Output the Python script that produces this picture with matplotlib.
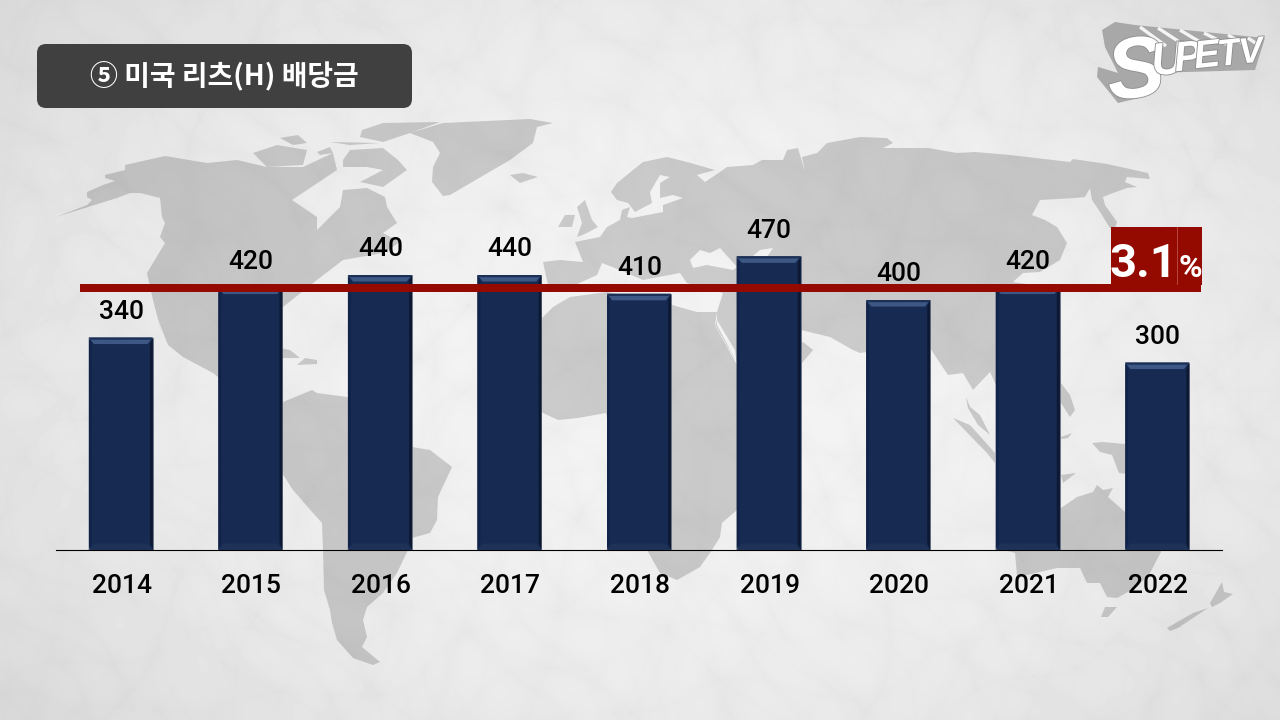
# plot.py
# dividend bars over a grey world map background
import numpy as np
import matplotlib
matplotlib.use("Agg")
import matplotlib.pyplot as plt
from matplotlib.patches import FancyBboxPatch, PathPatch, Polygon, Rectangle
from matplotlib.path import Path
from matplotlib.transforms import ScaledTranslation
import matplotlib.patheffects as pe

years = ["2014", "2015", "2016", "2017", "2018", "2019", "2020", "2021", "2022"]
dividends = [340, 420, 440, 440, 410, 470, 400, 420, 300]
avg_dividend = 419
title = "⑤ 미국 리츠(H) 배당금"
yield_text = "3.1"

navy = "#162a52"
red = "#950a00"

# background map, traced by hand, in pixels of the 1280x720 picture
north_america = [(56,217),(87,205),(92,200),(87,197),(87,192),(103,185),(115,181),(105,178),(105,175),(125,170),
    (125,165),(165,156),(207,163),(237,160),(267,167),(303,167),(333,153),(337,170),(292,200),(317,217),(317,230),
    (340,207),(343,190),(367,188),(385,197),(387,207),(397,223),(383,233),(400,242),(383,253),(343,260),(317,280),
    (283,307),(277,323),(280,333),(270,327),(255,330),(240,345),(240,380),(283,405),(283,420),(260,410),(213,373),
    (183,357),(168,345),(157,317),(162,335),(153,300),(147,273),(165,243),(160,237),(165,223),(162,217),(160,198),
    (140,193),(130,193),(117,198)]
south_america = [(283,402),(300,395),(312,390),(317,393),(347,397),(380,420),(412,447),(430,450),(452,467),(438,497),
    (437,520),(430,533),(412,538),(407,552),(397,573),(383,593),(367,607),(363,620),(367,637),(362,647),(380,662),
    (373,665),(353,658),(337,640),(332,623),(330,610),(324,590),(323,550),(322,523),(313,513),(293,490),(282,473),
    (278,430)]
greenland = [(410,133),(443,123),(530,119),(553,123),(537,127),(533,143),(510,160),(450,195),(443,196),(432,182),
    (433,167),(440,153),(433,142)]
eurasia = [(543,262),(560,260),(583,262),(575,242),(600,237),(607,227),(620,220),(622,210),(630,207),(627,217),
    (632,218),(663,212),(663,205),(683,198),(673,195),(660,198),(660,183),(670,177),(660,175),(650,192),(652,203),
    (635,212),(628,203),(617,200),(611,192),(617,183),(633,170),(643,162),(667,157),(687,162),(715,170),(697,175),
    (705,182),(720,172),(727,167),(753,165),(762,160),(783,160),(787,150),(798,148),(805,172),(802,157),(817,153),
    (827,143),(860,137),(887,138),(893,143),(883,148),(900,148),(928,148),(957,153),(975,152),(1010,155),(1070,162),
    (1073,159),(1107,164),(1148,173),(1150,179),(1127,177),(1125,182),(1137,187),(1127,188),(1113,193),(1103,197),
    (1105,205),(1117,222),(1115,228),(1110,228),(1100,212),(1092,200),(1090,188),(1085,197),(1075,198),(1040,200),
    (1032,215),(1045,220),(1057,227),(1067,243),(1060,260),(1040,272),(1023,273),(1013,282),(1053,288),(1060,300),
    (1040,340),(1000,350),(996,385),(990,372),(973,390),(963,373),(948,375),(930,348),(905,390),(880,350),(860,353),
    (853,350),(830,337),(801,330),(790,360),(737,363),(717,325),(717,312),(723,293),(687,283),(680,273),(643,280),
    (620,270),(602,263),(597,275),(575,285),(548,285)]
africa = [(553,307),(570,297),(607,292),(672,305),(697,312),(717,312),(715,325),(737,363),(770,385),(737,510),(722,523),
    (720,537),(712,550),(700,567),(677,580),(660,573),(647,550),(620,480),(606,413),(578,418),(558,420),(543,413),
    (525,395),(525,340),(543,317)]
australia = [(1061,508),(1077,497),(1093,492),(1097,485),(1103,490),(1113,488),(1108,497),(1125,512),(1145,480),
    (1161,552),(1150,573),(1137,587),(1117,598),(1107,597),(1100,583),(1087,583),(1080,568),(1057,568),(1027,575),
    (1017,575),(1015,553),(995,547),(1010,530)]
small_land = [
    [(510,175),(523,173),(538,177),(520,183)],  # iceland
    [(577,207),(585,200),(592,220),(598,227),(587,233),(577,237),(582,223)],
    [(558,227),(565,215),(575,215),(572,227)],
    [(253,153),(277,145),(307,150),(303,165),(267,167)],
    [(280,138),(298,135),(307,143),(293,145)],
    [(317,152),(330,147),(333,153),(320,155)],
    [(343,160),(350,150),(383,148),(398,160),(407,170),(383,187),(360,182),(383,170),(367,167),(343,167)],
    [(362,130),(383,123),(440,122),(410,133),(383,142),(360,137)],
    [(330,142),(380,143),(350,145)],
    [(275,347),(290,350),(300,358),(283,358)],
    [(297,365),(305,358),(317,360),(317,364)],
    [(801,343),(803,342),(813,350),(802,363)],
    [(953,418),(970,425),(995,453),(995,463),(987,453)],
    [(966,397),(970,407),(980,415),(990,435),(978,425),(968,408)],
    [(1061,383),(1070,395),(1075,410),(1070,417),(1061,403)],
    [(1092,443),(1103,442),(1135,445),(1135,475),(1119,473),(1112,455),(1100,452)],
    [(1061,437),(1072,433),(1068,438),(1061,439)],
    [(1061,475),(1076,473),(1063,483)],
    [(1105,607),(1117,607),(1108,617),(1101,617)],
    [(1222,582),(1224,592),(1233,594),(1220,603),(1212,607),(1210,603)],
    [(1208,608),(1193,613),(1167,628),(1170,631),(1178,628)],
]
seas = [
    [(690,260),(700,250),(710,253),(720,248),(737,267),(733,270),(707,265),(693,268)],  # black sea
    [(760,250),(773,248),(767,257),(753,256)],  # caspian
    [(715,325),(717,320),(735,350),(737,365)],  # red sea
]


def signed_area(pts):
    p = np.array(pts, dtype=float)
    return 0.5 * np.sum(p[:, 0] * np.roll(p[:, 1], -1) - np.roll(p[:, 0], -1) * p[:, 1])


def map_path(lands, holes):
    verts, codes = [], []
    for pts, sign in [(q, 1) for q in lands] + [(q, -1) for q in holes]:
        pts = list(pts)
        if signed_area(pts) * sign < 0:  # same winding for land, opposite for seas
            pts = pts[::-1]
        verts += pts + [pts[0]]
        codes += [Path.MOVETO] + [Path.LINETO] * (len(pts) - 1) + [Path.CLOSEPOLY]
    return Path(verts, codes)


plt.rcParams["font.family"] = ["Roboto", "DejaVu Sans"]
fig = plt.figure(figsize=(12.8, 7.2), dpi=100)

# paper background: vignette plus crease-like ridges
bg = fig.add_axes([0, 0, 1, 1], zorder=0)
yy, xx = np.mgrid[0:720, 0:1280].astype(float)
r = np.hypot((xx - 680) / 860, (yy - 360) / 560)
paper = 0.945 - 0.10 * np.clip(r, 0, 1.25) ** 2.2
warp_x = xx + 22 * np.sin(yy / 71 + 1.1) + 14 * np.sin((xx + yy) / 43)
warp_y = yy + 20 * np.sin(xx / 83 + 0.4) + 12 * np.sin((xx - yy) / 37)
for kx, ky, ph, w in [(0.031, 0.017, 0.3, 1.0), (-0.021, 0.037, 1.7, 1.0), (0.047, -0.029, 2.9, 0.8),
                      (0.013, 0.053, 4.1, 0.8), (-0.061, 0.023, 5.3, 0.6), (0.071, 0.041, 0.9, 0.5)]:
    ridge = np.abs(np.sin(kx * warp_x + ky * warp_y + ph))
    paper += w * 0.014 * (ridge ** 0.3 - 0.8)
bg.imshow(paper, cmap="gray", vmin=0, vmax=1, extent=(0, 1280, 720, 0), aspect="auto", interpolation="bilinear")
lands = [north_america, south_america, greenland, eurasia, africa, australia] + small_land
bg.add_patch(PathPatch(map_path(lands, seas), facecolor="black", alpha=0.165, edgecolor="none"))
bg.set_xlim(0, 1280)
bg.set_ylim(720, 0)
bg.axis("off")

# the chart itself, 129.6 px per category and 0.625 px per unit
ax = fig.add_axes([56 / 1280, 170 / 720, 1166 / 1280, 350 / 720], zorder=1)
ax.patch.set_alpha(0)
x = np.arange(len(years))
bar_w = 0.494
ax.bar(x, dividends, width=bar_w, color=navy, edgecolor="#6a7280", linewidth=0.5, zorder=2)

# bevel on each bar
side = 0.022
dx = 0.04
dy = 10.5
for xi, v in zip(x, dividends):
    l, r_ = xi - bar_w / 2, xi + bar_w / 2
    ax.fill([l, l + side, l + side, l], [0, dy, v - dy, v], color="#12234a", lw=0, zorder=3)
    ax.fill([r_, r_ - side, r_ - side, r_], [0, dy, v - dy, v], color="#0d1933", lw=0, zorder=3)
    ax.fill([l, r_, r_ - dx, l + dx], [0, 0, dy, dy], color="#1e3157", lw=0, zorder=3)
    ax.fill([l, r_, r_ - dx, l + dx], [v, v, v - dy, v - dy], color="#3e5885", lw=0, zorder=3)
    ax.fill([l, r_, r_ - 0.012, l + 0.012], [v, v, v - 3.5, v - 3.5], color="#1c2f55", lw=0, zorder=3)
    ax.annotate(str(v), (xi, v), xytext=(0.4, 18.5), textcoords="offset points", ha="center", va="center",
                fontsize=19, fontweight="medium", color="black", zorder=6)

ax.plot([-0.315, 8.34], [avg_dividend, avg_dividend], color=red, lw=5.76, solid_capstyle="butt", zorder=5)

ax.set_xlim(-0.5, 8.5)
ax.set_ylim(0, 560)
ax.set_xticks(x)
ax.set_xticklabels(years, fontsize=19, fontweight="medium", color="black")
ax.tick_params(axis="x", length=0, pad=17.5)
nudge = ScaledTranslation(1 / 100, 0, fig.dpi_scale_trans)
for lab in ax.get_xticklabels():
    lab.set_transform(lab.get_transform() + nudge)
ax.set_yticks([])
for s in ["top", "left", "right"]:
    ax.spines[s].set_visible(False)
ax.spines["bottom"].set_linewidth(0.8)
ax.spines["bottom"].set_color("black")

# title box, yield badge and logo go on a pixel overlay
top = fig.add_axes([0, 0, 1, 1], zorder=2)
top.patch.set_alpha(0)
top.set_xlim(0, 1280)
top.set_ylim(720, 0)
top.axis("off")

top.add_patch(FancyBboxPatch((46, 53), 357, 46, boxstyle="round,pad=9,rounding_size=9", facecolor="#404040",
                             edgecolor="none"))
top.text(224, 76, title, ha="center", va="center", fontsize=20.1, color="white", fontweight="bold",
         family=["Noto Sans CJK KR", "DejaVu Sans"])

top.add_patch(Rectangle((1111, 227), 91, 58, facecolor=red, edgecolor="none"))
top.plot([1177, 1177], [227, 284], color="#b5493f", lw=0.7)
top.text(1143, 277, yield_text, ha="center", va="baseline", fontsize=34, color="white", fontweight="bold")
top.text(1190, 277, "%", ha="center", va="baseline", fontsize=23, color="white", fontweight="bold")

# logo
logo_grey = "#a8a8a8"
top.add_patch(Polygon([(1102,30),(1115,22),(1135,25),(1265,38),(1255,70),(1152,73),(1143,97),(1118,103),(1097,77),
                       (1098,67),(1118,73),(1105,47)], facecolor=logo_grey, edgecolor="none"))
for x0, y0, x1, y1 in [(1140,27,1166,46),(1158,28,1184,45),(1180,30,1205,45),(1204,33,1228,45),(1228,35,1246,45),
                       (1248,38,1260,46)]:
    top.plot([x0, x1], [y0, y1], color="#f4f4f4", lw=2.4, solid_capstyle="butt")
for ch, cx, cy, fs in [("S", 1136, 75, 62), ("U", 1168, 62, 33), ("P", 1188, 59, 30), ("E", 1207, 57, 28),
                       ("T", 1229, 55, 27), ("V", 1251, 53, 26)]:
    top.text(cx, cy, ch, ha="center", va="center", fontsize=fs, color="white", fontweight="bold", style="italic",
             rotation=6, family="Liberation Sans",
             path_effects=[pe.withStroke(linewidth=1.2, foreground="#8c8c8c")])

fig.savefig("out.png", dpi=100)
